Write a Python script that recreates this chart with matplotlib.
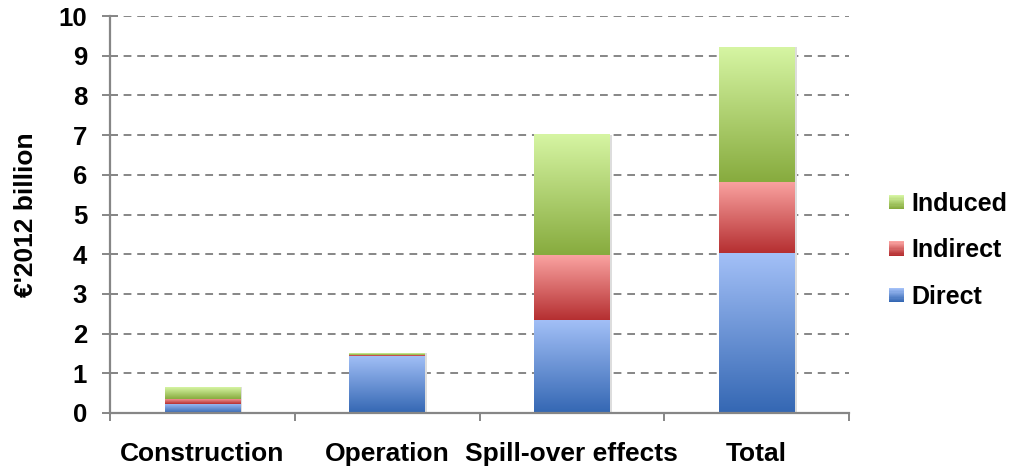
import matplotlib.pyplot as plt
import numpy as np
from matplotlib.colors import LinearSegmentedColormap
from matplotlib.legend_handler import HandlerBase
from matplotlib.patches import Rectangle

plt.rcParams['font.family'] = ['Liberation Sans', 'DejaVu Sans']
plt.rcParams['font.weight'] = 'bold'

categories = ["Construction", "Operation", "Spill-over effects", "Total"]
direct = [0.23, 1.44, 2.35, 4.02]
indirect = [0.13, 0.03, 1.62, 1.80]
induced = [0.30, 0.03, 3.03, 3.40]

series = [("Direct", direct, "#3467B3", "#A3C0F7"),
          ("Indirect", indirect, "#B52F31", "#FAA3A1"),
          ("Induced", induced, "#87AB3E", "#D6F5A3")]

GREY = "#868686"


def gradient_cmap(dark, light):
    return LinearSegmentedColormap.from_list("g", [dark, light])


class GradientHandler(HandlerBase):
    def __init__(self, dark, light):
        super().__init__()
        self.dark = dark
        self.light = light

    def create_artists(self, legend, orig_handle, xdescent, ydescent, width, height, fontsize, trans):
        cmap = gradient_cmap(self.dark, self.light)
        n = 12
        side = min(width, height) * 0.9
        x0 = -xdescent + width - side
        y0 = -ydescent + (height - side) / 2
        arts = []
        for i in range(n):
            r = Rectangle((x0, y0 + side * i / n), side, side / n + 0.05,
                          facecolor=cmap(i / (n - 1)), edgecolor='none', transform=trans)
            arts.append(r)
        return arts


fig = plt.figure(figsize=(10.14, 4.72), dpi=100)
ax = fig.add_axes([110 / 1014, 1 - 413 / 472, (849 - 110) / 1014, (413 - 16) / 472])

x = np.arange(len(categories))
width = 0.41
bottom = np.zeros(len(categories))
grad = np.linspace(0, 1, 256).reshape(-1, 1)
handles = []
handler_map = {}
for name, vals, dark, light in series:
    cmap = gradient_cmap(dark, light)
    for xi, b, v in zip(x, bottom, vals):
        ax.imshow(grad, cmap=cmap, origin='lower', aspect='auto', zorder=3,
                  extent=[xi - width / 2, xi + width / 2, b, b + v], interpolation='bilinear')
        # faint shadow at the right edge
        ax.add_patch(Rectangle((xi + width / 2, b), 0.012, v, facecolor='#dddddd',
                               edgecolor='none', zorder=2))
    h = Rectangle((0, 0), 1, 1, label=name)
    handles.append(h)
    handler_map[h] = GradientHandler(dark, light)
    bottom = bottom + np.array(vals)

ax.set_xlim(-0.5, len(categories) - 0.5)
ax.set_ylim(0, 10)
ax.set_yticks(range(0, 11))
ax.yaxis.grid(True, linestyle=(0, (4, 3)), color=GREY, linewidth=1.4, zorder=0)
ax.set_axisbelow(True)

for s in ["top", "right"]:
    ax.spines[s].set_visible(False)
for s in ["left", "bottom"]:
    ax.spines[s].set_color(GREY)
    ax.spines[s].set_linewidth(1.6)
    ax.spines[s].set_zorder(4)

ax.tick_params(axis='y', direction='inout', length=11, width=1.4, color=GREY,
               labelsize=18.5, pad=11)
ax.set_xticks(x)
ax.set_xticklabels(categories)
ax.set_xticks(np.arange(-0.5, len(categories)), minor=True)
ax.tick_params(axis='x', which='major', length=0, labelsize=19, pad=21)
ax.tick_params(axis='x', which='minor', direction='out', length=6, width=1.4, color=GREY)

ax.set_ylabel("€'2012 billion", fontsize=19, fontweight='bold', labelpad=15)

leg_h = handles[::-1]
ax.legend(handles=leg_h, labels=[h.get_label() for h in leg_h], handler_map=handler_map,
          loc='center left', bbox_to_anchor=(1.022, 0.41), frameon=False, fontsize=18,
          labelspacing=0.9, handlelength=0.65, handletextpad=0.3)

fig.savefig("out.png", dpi=100)
